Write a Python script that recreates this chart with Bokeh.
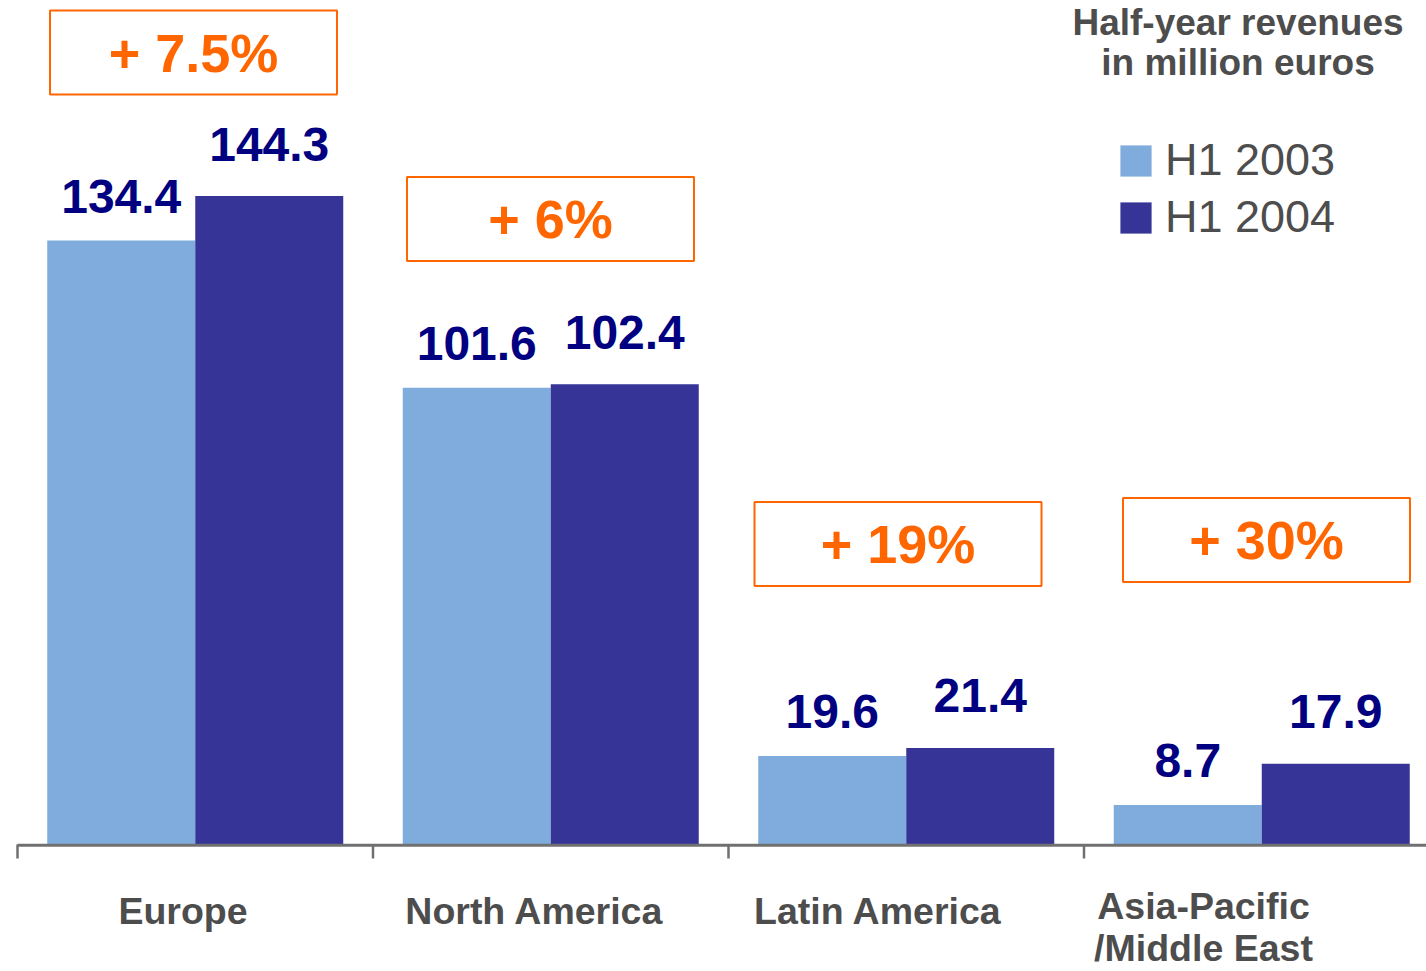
from bokeh.plotting import figure
from bokeh.models import ColumnDataSource, Range1d, Label, Legend, LegendItem
from bokeh.core.properties import value
from bokeh.embed import file_html
from bokeh.resources import INLINE

# ---------------- data ----------------
regions = ["Europe", "North America", "Latin America", "Asia-Pacific\n/Middle East"]
h1_2003 = [134.4, 101.6, 19.6, 8.7]
h1_2004 = [144.3, 102.4, 21.4, 17.9]
growth = ["+ 7.5%", "+ 6%", "+ 19%", "+ 30%"]
series = ["H1 2003", "H1 2004"]

# ---------------- layout constants ----------------
W, H = 1426, 971
CAT_PX = 355.5          # pixel width of one category
X0_PX = 17              # pixel of first category boundary
BASE_PX = 843.5         # pixel of the value 0
PX_PER_UNIT = 4.49      # pixels per million euros
BAR_PX = 148

FONT = "Liberation Sans"
LIGHT = "#7FABDD"
DARK = "#363597"
NAVY = "#000080"
ORANGE = "#FF6600"
GRAY = "#4D4D4D"
AXIS = "#707070"

x_start = -X0_PX / CAT_PX
x_end = (W - X0_PX) / CAT_PX
y_end = BASE_PX / PX_PER_UNIT
y_start = -(H - BASE_PX) / PX_PER_UNIT

def py(pixel):
    """screen pixel (from top) -> data y"""
    return (BASE_PX - pixel) / PX_PER_UNIT

def px(pixel):
    """screen pixel (from left) -> data x"""
    return (pixel - X0_PX) / CAT_PX

p = figure(width=W, height=H, x_range=Range1d(x_start, x_end),
           y_range=Range1d(y_start, y_end), output_backend="svg",
           toolbar_location=None, min_border=0, outline_line_color=None,
           x_axis_location=None, y_axis_location=None)
p.grid.visible = False
p.background_fill_color = "white"
p.border_fill_color = "white"

n = len(regions)
centers = [i + 0.5 for i in range(n)]
bw = BAR_PX / CAT_PX
x_light = [c - bw / 2 for c in centers]
x_dark = [c + bw / 2 for c in centers]

src = ColumnDataSource(dict(xl=x_light, xd=x_dark, a=h1_2003, b=h1_2004,
                            la=[f"{v:.1f}" for v in h1_2003],
                            lb=[f"{v:.1f}" for v in h1_2004]))

r1 = p.vbar(x="xl", top="a", bottom=0, width=bw, source=src,
            fill_color=LIGHT, line_color=None)
r2 = p.vbar(x="xd", top="b", bottom=0, width=bw, source=src,
            fill_color=DARK, line_color=None)

# value labels
p.text(x="xl", y="a", text="la", source=src, text_align="center",
       text_baseline="middle", y_offset=-44, text_color=NAVY,
       text_font=value(FONT), text_font_style="bold", text_font_size="48px")
p.text(x="xd", y="b", text="lb", source=src, text_align="center",
       text_baseline="middle", y_offset=-52, text_color=NAVY,
       text_font=value(FONT), text_font_style="bold", text_font_size="48px")

# category axis line and ticks
axis_y = py(844.7)
p.segment(x0=[0], x1=[x_end], y0=[axis_y], y1=[axis_y],
          line_color=AXIS, line_width=3)
tick_x = list(range(n))
p.segment(x0=tick_x, x1=tick_x, y0=[py(844)] * n, y1=[py(858)] * n,
          line_color=AXIS, line_width=2.5)

# category labels
label_x = [px(182.5), px(534), px(877.5), px(1203)]
label_y = [py(910.5), py(910.5), py(910.5), py(926)]
p.text(x=label_x, y=label_y, text=regions, text_align="center",
       text_baseline="middle", text_color=GRAY, text_font=value(FONT),
       text_font_style="bold", text_font_size="37.5px", text_line_height=1.0)

# growth boxes
box_x = [px(193), px(550), px(897.5), px(1266)]
box_y = [py(52), py(218.5), py(543.5), py(539.5)]
p.rect(x=box_x, y=box_y, width=287, height=84, width_units="screen",
       height_units="screen", fill_color=None, line_color=ORANGE, line_width=2)
p.text(x=box_x, y=box_y, text=growth, text_align="center",
       text_baseline="middle", text_color=ORANGE, text_font=value(FONT),
       text_font_style="bold", text_font_size="54px")

# title
for txt, mid in [("Half-year revenues", 21.5), ("in million euros", 62)]:
    p.add_layout(Label(x=1237.5, y=H - mid, x_units="screen", y_units="screen",
                       text=txt, text_align="center", text_baseline="middle",
                       text_color=GRAY, text_font=FONT, text_font_style="bold",
                       text_font_size="37px"))

# legend
legend = Legend(items=[LegendItem(label=series[0], renderers=[r1]),
                       LegendItem(label=series[1], renderers=[r2])],
                location=(1116, 728), orientation="vertical",
                glyph_width=39, glyph_height=39, label_standoff=10,
                spacing=5, padding=0, margin=0,
                border_line_color=None, background_fill_alpha=0,
                label_text_font=FONT, label_text_font_size="45px",
                label_text_color=GRAY)
p.add_layout(legend)

open("out.html", "w").write(file_html(p, INLINE))
